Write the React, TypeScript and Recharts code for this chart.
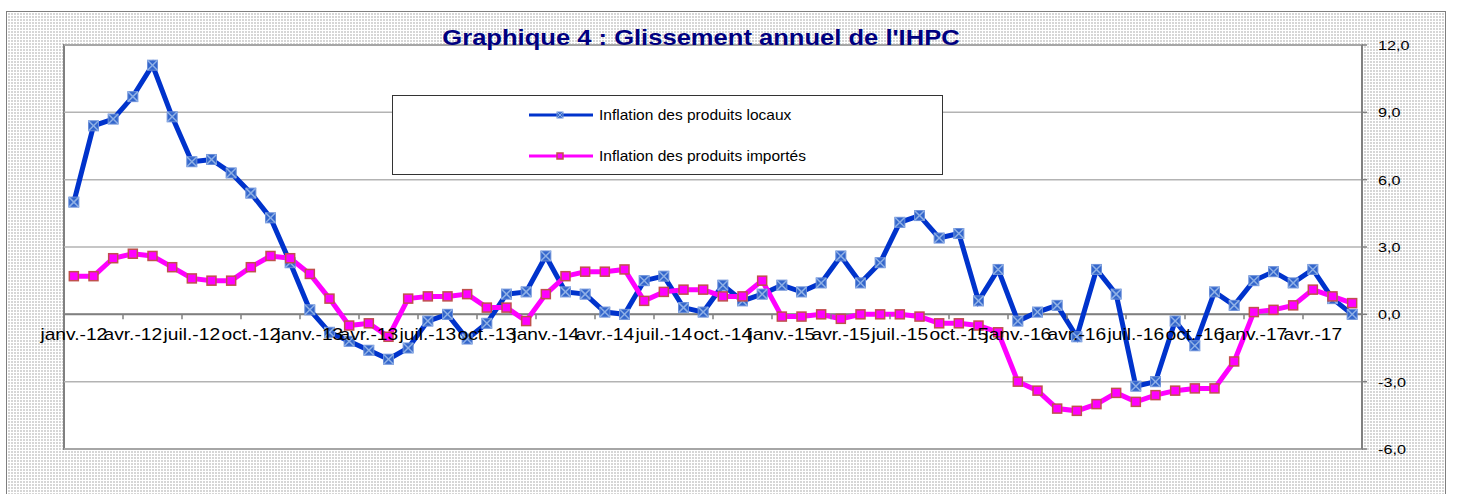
import { LineChart, Line, XAxis, YAxis, CartesianGrid, ReferenceLine, Legend } from "recharts";

const months = [
  "janv.-12", "févr.-12", "mars-12", "avr.-12", "mai-12", "juin-12", "juil.-12", "août-12", "sept.-12", "oct.-12", "nov.-12", "déc.-12",
  "janv.-13", "févr.-13", "mars-13", "avr.-13", "mai-13", "juin-13", "juil.-13", "août-13", "sept.-13", "oct.-13", "nov.-13", "déc.-13",
  "janv.-14", "févr.-14", "mars-14", "avr.-14", "mai-14", "juin-14", "juil.-14", "août-14", "sept.-14", "oct.-14", "nov.-14", "déc.-14",
  "janv.-15", "févr.-15", "mars-15", "avr.-15", "mai-15", "juin-15", "juil.-15", "août-15", "sept.-15", "oct.-15", "nov.-15", "déc.-15",
  "janv.-16", "févr.-16", "mars-16", "avr.-16", "mai-16", "juin-16", "juil.-16", "août-16", "sept.-16", "oct.-16", "nov.-16", "déc.-16",
  "janv.-17", "févr.-17", "mars-17", "avr.-17", "mai-17", "juin-17",
];

const locaux = [
  5.0, 8.4, 8.7, 9.7, 11.1, 8.8, 6.8, 6.9, 6.3, 5.4, 4.3, 2.3,
  0.2, -0.8, -1.2, -1.6, -2.0, -1.5, -0.3, 0.0, -1.1, -0.4, 0.9, 1.0,
  2.6, 1.0, 0.9, 0.1, 0.0, 1.5, 1.7, 0.3, 0.1, 1.3, 0.6, 0.9,
  1.3, 1.0, 1.4, 2.6, 1.4, 2.3, 4.1, 4.4, 3.4, 3.6, 0.6, 2.0,
  -0.3, 0.1, 0.4, -1.0, 2.0, 0.9, -3.2, -3.0, -0.3, -1.4, 1.0, 0.4,
  1.5, 1.9, 1.4, 2.0, 0.7, 0.0,
];

const importes = [
  1.7, 1.7, 2.5, 2.7, 2.6, 2.1, 1.6, 1.5, 1.5, 2.1, 2.6, 2.5,
  1.8, 0.7, -0.5, -0.4, -1.0, 0.7, 0.8, 0.8, 0.9, 0.3, 0.3, -0.3,
  0.9, 1.7, 1.9, 1.9, 2.0, 0.6, 1.0, 1.1, 1.1, 0.8, 0.8, 1.5,
  -0.1, -0.1, 0.0, -0.2, 0.0, 0.0, 0.0, -0.1, -0.4, -0.4, -0.5, -0.8,
  -3.0, -3.4, -4.2, -4.3, -4.0, -3.5, -3.9, -3.6, -3.4, -3.3, -3.3, -2.1,
  0.1, 0.2, 0.4, 1.1, 0.8, 0.5,
];

const yTicks = [-6, -3, 0, 3, 6, 9, 12];
const seriesOrder = ["locaux", "importes"];

const data = months.map((m, i) => ({ month: m, locaux: locaux[i], importes: importes[i] }));

// layout
const W = 1463;
const H = 494;
const TOP = 45;
const LEFT = 64;
const PLOT_W = 1298;
const PLOT_H = 404;
const Y_MIN = -6;
const Y_MAX = 12;
const BAND = PLOT_W / months.length;
const ZERO_Y = TOP + (PLOT_H * (Y_MAX - 0)) / (Y_MAX - Y_MIN);
const FONT = "Arial, 'Liberation Sans', sans-serif";

const BLUE = "#0033cc";
const PINK = "#ff00ff";

const BlueDot = (props: any) => {
  const { cx, cy, index } = props;
  if (cx == null || cy == null) return null;
  const s = 5;
  return (
    <g key={`b${index}`}>
      <rect x={cx - s} y={cy - s} width={s * 2} height={s * 2} fill="#3366cc" stroke="#6b8fd8" strokeWidth={1} />
      <line x1={cx - s} y1={cy - s} x2={cx + s} y2={cy + s} stroke="#8fb0e6" strokeWidth={1.5} />
      <line x1={cx - s} y1={cy + s} x2={cx + s} y2={cy - s} stroke="#8fb0e6" strokeWidth={1.5} />
    </g>
  );
};

const PinkDot = (props: any) => {
  const { cx, cy, index } = props;
  if (cx == null || cy == null) return null;
  const s = 4.5;
  return (
    <rect key={`p${index}`} x={cx - s} y={cy - s} width={s * 2} height={s * 2} fill={PINK} stroke="#c0504d" strokeWidth={1.5} />
  );
};

const XTick = (props: any) => {
  const { x, payload } = props;
  return (
    <g>
      <line x1={x - BAND / 2} y1={ZERO_Y} x2={x - BAND / 2} y2={ZERO_Y + 5} stroke="#808080" strokeWidth={1.5} />
      <text
        transform={`translate(${x},${ZERO_Y + 26}) scale(1.2,1)`}
        textAnchor="middle"
        fontSize={16}
        fontFamily={FONT}
        fill="#000"
      >
        {payload.value}
      </text>
    </g>
  );
};

const YTick = (props: any) => {
  const { x, y, payload } = props;
  return (
    <text
      transform={`translate(${x},${y}) scale(1.2,1)`}
      dy="0.36em"
      textAnchor="start"
      fontSize={13.5}
      fontFamily={FONT}
      fill="#000"
    >
      {Number(payload.value).toFixed(1).replace(".", ",")}
    </text>
  );
};

const renderLegend = (props: any) => {
  const items = [...(props.payload || [])].sort(
    (a: any, b: any) => seriesOrder.indexOf(a.dataKey) - seriesOrder.indexOf(b.dataKey)
  );
  return (
    <div
      style={{
        position: "relative",
        width: 551,
        height: 80,
        background: "#fff",
        border: "1px solid #333",
        boxSizing: "border-box",
      }}
    >
      {items.map((it: any, i: number) => (
        <div
          key={it.value}
          style={{ position: "absolute", left: 136, top: i === 0 ? 9 : 50, height: 20, display: "flex", alignItems: "center" }}
        >
          <svg width={64} height={20}>
            <line x1={0} y1={10} x2={64} y2={10} stroke={it.color} strokeWidth={3} />
            {it.dataKey === "locaux" ? (
              <g>
                <rect x={28} y={7} width={6} height={6} fill="#3366cc" stroke="#6b8fd8" />
                <line x1={28} y1={7} x2={34} y2={13} stroke="#8fb0e6" />
                <line x1={28} y1={13} x2={34} y2={7} stroke="#8fb0e6" />
              </g>
            ) : (
              <rect x={28} y={7} width={6} height={6} fill={PINK} stroke="#c0504d" strokeWidth={1.5} />
            )}
          </svg>
          <span
            style={{
              marginLeft: 6,
              fontSize: 14.5,
              fontFamily: FONT,
              color: "#000",
              whiteSpace: "nowrap",
              display: "inline-block",
              transform: "scaleX(1.07)",
              transformOrigin: "left center",
            }}
          >
            {it.value}
          </span>
        </div>
      ))}
    </div>
  );
};

export default function App() {
  return (
    <div style={{ position: "absolute", left: 0, top: 0, width: W, height: H, overflow: "hidden", background: "#fff" }}>
      {/* outer chart frame with Excel-like dotted fill */}
      <div
        style={{
          position: "absolute",
          left: 6,
          top: 11,
          width: 1440,
          height: H - 11,
          boxSizing: "border-box",
          borderTop: "1px solid #7f7f7f",
          borderLeft: "1px solid #7f7f7f",
          borderRight: "1px solid #7f7f7f",
          backgroundColor: "#fff",
          backgroundImage:
            "linear-gradient(90deg, #fff 1px, transparent 1px), linear-gradient(#fff 1px, #d6d6d6 1px)",
          backgroundSize: "3px 3px",
        }}
      />
      {/* plot area */}
      <div
        style={{
          position: "absolute",
          left: LEFT - 1,
          top: TOP - 1,
          width: PLOT_W + 2,
          height: PLOT_H + 2,
          boxSizing: "border-box",
          border: "2px solid #808080",
          background: "#fff",
        }}
      />
      <div style={{ position: "absolute", left: 0, top: 0 }}>
        <LineChart
          width={W}
          height={H}
          data={data}
          margin={{ top: TOP, left: LEFT, right: W - LEFT - PLOT_W - 60, bottom: H - TOP - PLOT_H - 30 }}
        >
          <CartesianGrid horizontal vertical={false} stroke="#b3b3b3" strokeWidth={1.5} />
          <XAxis
            dataKey="month"
            height={30}
            interval={2}
            axisLine={false}
            tickLine={false}
            tick={<XTick />}
            padding={{ left: BAND / 2, right: BAND / 2 }}
          />
          <YAxis
            orientation="right"
            width={60}
            domain={[Y_MIN, Y_MAX]}
            ticks={yTicks}
            allowDataOverflow
            axisLine={{ stroke: "#808080", strokeWidth: 2 }}
            tickLine={{ stroke: "#808080", strokeWidth: 1.5 }}
            tickSize={5}
            tickMargin={11}
            tick={<YTick />}
          />
          <ReferenceLine y={0} stroke="#808080" strokeWidth={2} />
          <Legend
            layout="horizontal"
            verticalAlign="middle"
            align="center"
            content={renderLegend}
            wrapperStyle={{ left: 392, top: 95, width: 551, height: 80 }}
          />
          <Line
            type="linear"
            dataKey="locaux"
            name="Inflation des produits locaux"
            stroke={BLUE}
            strokeWidth={5}
            dot={<BlueDot />}
            activeDot={false}
            isAnimationActive={false}
          />
          <Line
            type="linear"
            dataKey="importes"
            name="Inflation des produits importés"
            stroke={PINK}
            strokeWidth={5}
            dot={<PinkDot />}
            activeDot={false}
            isAnimationActive={false}
          />
        </LineChart>
      </div>
      <div
        style={{
          position: "absolute",
          left: 0,
          width: 1402,
          top: 28,
          textAlign: "center",
          fontFamily: FONT,
          fontWeight: "bold",
          fontSize: 21.3,
          lineHeight: "21px",
          color: "#000080",
          whiteSpace: "nowrap",
          transform: "scaleX(1.2)",
          transformOrigin: "701px 50%",
        }}
      >
        Graphique 4 : Glissement annuel de l'IHPC
      </div>
    </div>
  );
}
